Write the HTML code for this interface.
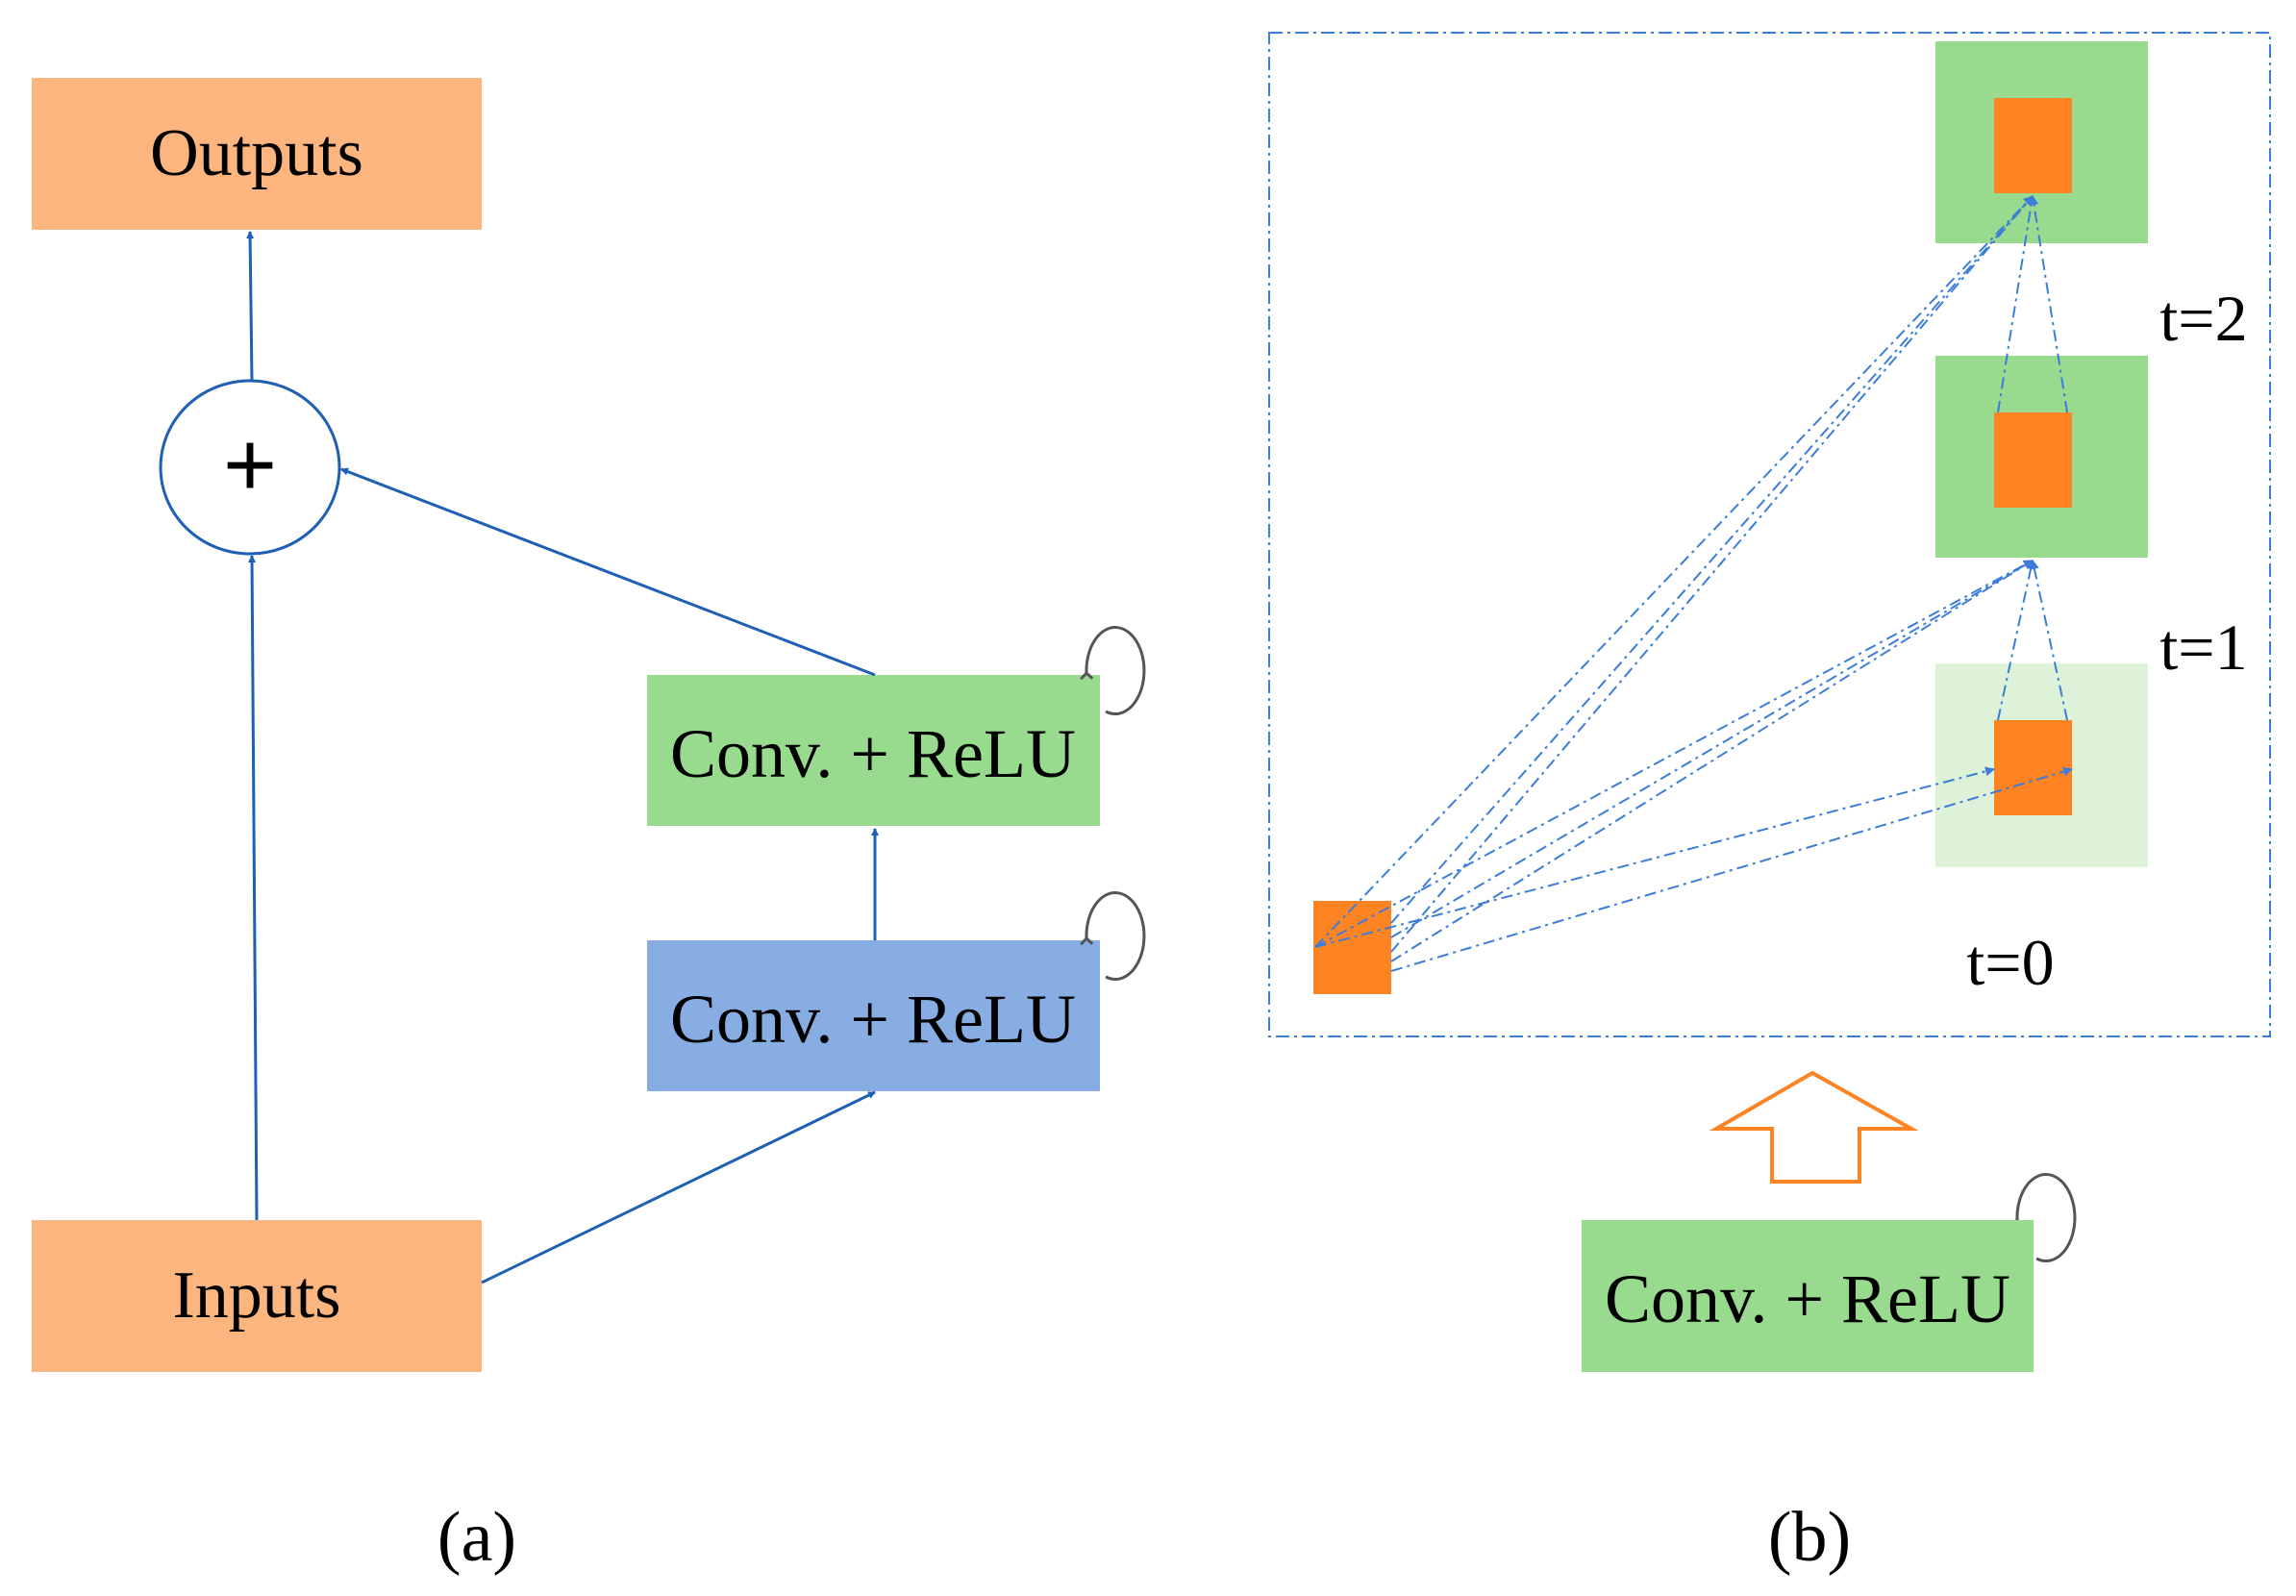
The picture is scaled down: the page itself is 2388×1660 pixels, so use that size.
<!DOCTYPE html>
<html><head><style>body{margin:0;background:#fff}</style></head><body>
<svg width="2388" height="1655" xmlns="http://www.w3.org/2000/svg" font-family="Liberation Serif, serif">
<defs>
<marker id="a" markerWidth="8" markerHeight="8" refX="7" refY="4" orient="auto" markerUnits="userSpaceOnUse"><path d="M0,0 L8,4 L0,8z" fill="#1f5fb4"/></marker>
<marker id="b" markerWidth="10" markerHeight="10" refX="9" refY="5" orient="auto" markerUnits="userSpaceOnUse"><path d="M0,0 L10,5 L0,10z" fill="#3b7dd8"/></marker>
<marker id="g" markerWidth="16" markerHeight="16" refX="8" refY="8" orient="auto" markerUnits="userSpaceOnUse"><path d="M2,2 L8,8 L2,14" fill="none" stroke="#555" stroke-width="3"/></marker>
</defs>
<rect x="33" y="81" width="468" height="158" fill="#fdb57f"/>
<text x="267" y="182" font-size="70" text-anchor="middle">Outputs</text>
<rect x="33" y="1269" width="468" height="158" fill="#fdb57f"/>
<text x="267" y="1370" font-size="70" text-anchor="middle">Inputs</text>
<ellipse cx="260" cy="486" rx="93" ry="90" fill="#fff" stroke="#1f5fb4" stroke-width="3"/>
<text x="260" y="516" font-size="96" text-anchor="middle" font-family="Liberation Sans, sans-serif">+</text>
<rect x="673" y="702" width="471" height="157" fill="#98da8e"/>
<text x="908" y="808" font-size="72" text-anchor="middle">Conv. + ReLU</text>
<rect x="673" y="978" width="471" height="157" fill="#87ade3"/>
<text x="908" y="1084" font-size="72" text-anchor="middle">Conv. + ReLU</text>
<g stroke="#1f5fb4" stroke-width="3" fill="none" marker-end="url(#a)">
<line x1="262" y1="396" x2="260" y2="241"/>
<line x1="267" y1="1269" x2="262" y2="578"/>
<line x1="910" y1="702" x2="355" y2="488"/>
<line x1="910" y1="978" x2="910" y2="862"/>
<line x1="501" y1="1334" x2="910" y2="1136"/>
</g>
<g stroke="#555" stroke-width="3" fill="none">
<path d="M1130,700 A30,45 0 1 1 1150,740" marker-start="url(#g)"/>
<path d="M1130,976 A30,45 0 1 1 1150,1016" marker-start="url(#g)"/>
<path d="M2098,1269 A30,45 0 1 1 2118,1309" marker-start="url(#g)"/>
</g>
<text x="496" y="1623" font-size="74" text-anchor="middle">(a)</text>
<rect x="1320" y="34" width="1041" height="1044" fill="none" stroke="#3b7dd8" stroke-width="2" stroke-dasharray="14,5,3,5"/>
<rect x="2013" y="43" width="221" height="210" fill="#98da8e"/>
<rect x="2074" y="102" width="81" height="99" fill="#fd8323"/>
<rect x="2013" y="370" width="221" height="210" fill="#98da8e"/>
<rect x="2074" y="429" width="81" height="99" fill="#fd8323"/>
<rect x="2013" y="690" width="221" height="212" fill="#ddf2d8"/>
<rect x="2074" y="749" width="81" height="99" fill="#fd8323"/>
<rect x="1366" y="937" width="81" height="97" fill="#fd8323"/>
<g stroke="#3b7dd8" stroke-width="2" fill="none" stroke-dasharray="12,5,3,5" marker-end="url(#b)">
<line x1="1368" y1="985" x2="2114" y2="204"/>
<line x1="1447" y1="990" x2="2114" y2="204"/>
<line x1="1447" y1="960" x2="2114" y2="204"/>
<line x1="1368" y1="985" x2="2114" y2="583"/>
<line x1="1447" y1="1000" x2="2114" y2="583"/>
<line x1="1447" y1="975" x2="2114" y2="583"/>
<line x1="1368" y1="985" x2="2074" y2="800"/>
<line x1="1447" y1="1010" x2="2155" y2="800"/>
<line x1="2078" y1="429" x2="2114" y2="204"/>
<line x1="2150" y1="429" x2="2114" y2="204"/>
<line x1="2078" y1="749" x2="2114" y2="583"/>
<line x1="2150" y1="749" x2="2114" y2="583"/>
</g>
<text x="2292" y="354" font-size="68" text-anchor="middle">t=2</text>
<text x="2292" y="696" font-size="68" text-anchor="middle">t=1</text>
<text x="2091" y="1024" font-size="68" text-anchor="middle">t=0</text>
<path d="M1885,1116 L1988,1174 L1934,1174 L1934,1229 L1843,1229 L1843,1174 L1785,1174 Z" fill="#fff" stroke="#fd8323" stroke-width="4"/>
<rect x="1645" y="1269" width="470" height="158" fill="#98da8e"/>
<text x="1880" y="1375" font-size="72" text-anchor="middle">Conv. + ReLU</text>
<text x="1882" y="1623" font-size="74" text-anchor="middle">(b)</text>
</svg>
</body></html>
